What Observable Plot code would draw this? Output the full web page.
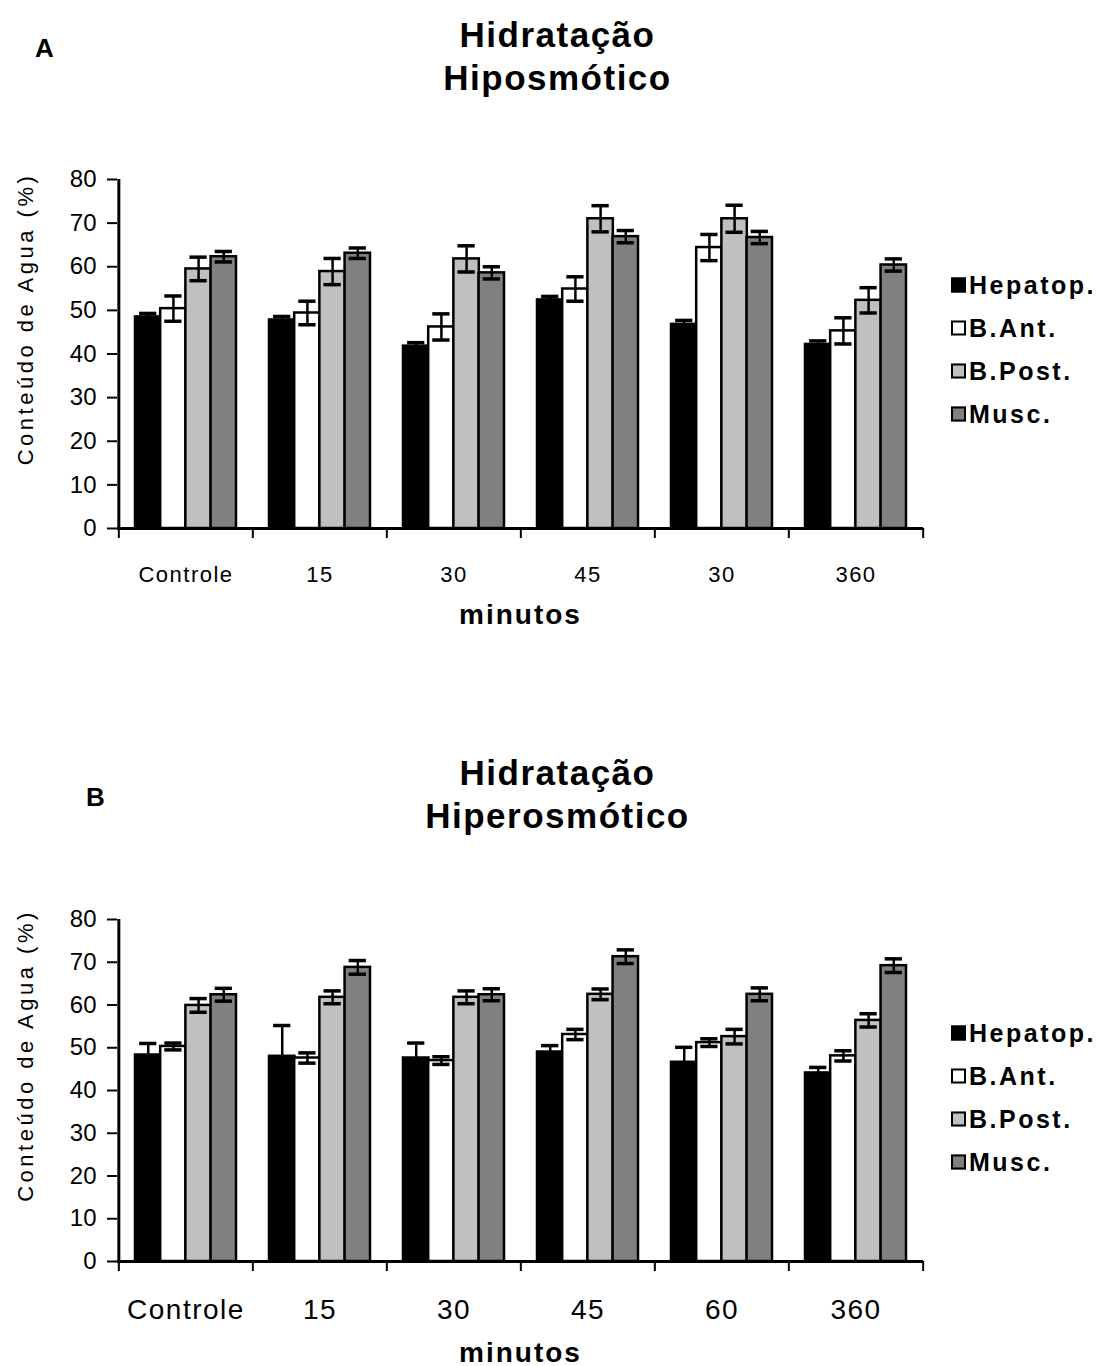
<!DOCTYPE html>
<html><head><meta charset="utf-8">
<script src="https://cdn.jsdelivr.net/npm/d3@7"></script>
<script src="https://cdn.jsdelivr.net/npm/@observablehq/plot@0.6"></script>
<style>
body{margin:0;background:#fff;font-family:"Liberation Sans",Arial,sans-serif;color:#000}
#page{position:relative;width:1115px;height:1366px;overflow:hidden;background:#fff}
.t{position:absolute;left:0;width:1115px;text-align:center;font-weight:bold;font-size:35px;letter-spacing:1.5px;line-height:1;white-space:nowrap}
.panel{position:absolute;font-weight:bold;font-size:26px;line-height:1}
.plot{position:absolute;left:0}
.legend{position:absolute;left:951px;font-weight:bold;font-size:25px;letter-spacing:2.5px}
.legend .row{position:absolute;left:0;display:flex;align-items:center;white-space:nowrap;transform:translateY(-50%)}
.legend .sw{width:11px;height:11px;border:2px solid #000;margin-right:3px}
svg g[aria-label="x-axis tick label"] text{letter-spacing:1.5px}
</style>
</head><body>
<div id="page"></div>
<script>
// ---------- data ----------
const series = ["Hepatop.", "B.Ant.", "B.Post.", "Musc."];
const colors = ["#000000", "#ffffff", "#c0c0c0", "#808080"];
const labelsA = ["Controle", "15", "30", "45", "30", "360"];
const labelsB = ["Controle", "15", "30", "45", "60", "360"];
const yTicks = [0, 10, 20, 30, 40, 50, 60, 70, 80];

// A - Hiposmótico
const hepA = [48.5, 47.8, 41.8, 52.4, 46.8, 42.2];
const hepAerr = [0.8, 0.8, 0.8, 0.8, 0.9, 0.8];
const antA = [50.4, 49.4, 46.2, 54.9, 64.4, 45.3];
const antAerr = [2.9, 2.7, 3.0, 2.8, 3.0, 3.0];
const postA = [59.5, 58.9, 61.8, 71.0, 71.0, 52.3];
const postAerr = [2.7, 3.0, 3.0, 3.0, 3.1, 2.9];
const musA = [62.3, 63.1, 58.6, 66.9, 66.7, 60.4];
const musAerr = [1.2, 1.2, 1.4, 1.4, 1.4, 1.4];

// B - Hiperosmótico
const hepB = [48.3, 48.0, 47.6, 49.0, 46.6, 44.1];
const hepBerr = [2.7, 7.2, 3.5, 1.5, 3.5, 1.3];
const antB = [50.3, 47.6, 47.0, 53.1, 51.2, 48.1];
const antBerr = [0.8, 1.2, 0.9, 1.2, 0.9, 1.2];
const postB = [59.9, 61.8, 61.8, 62.5, 52.6, 56.4];
const postBerr = [1.6, 1.5, 1.5, 1.25, 1.7, 1.55];
const musB = [62.4, 68.8, 62.4, 71.3, 62.5, 69.2];
const musBerr = [1.5, 1.6, 1.4, 1.6, 1.5, 1.6];

const yLabel = "Conteúdo de Agua (%)";
const xLabel = "minutos";

// ---------- layout ----------
const page = document.getElementById("page");
function addDiv(cls, text, style) {
  const d = document.createElement("div");
  d.className = cls;
  if (text != null) d.textContent = text;
  Object.assign(d.style, style || {});
  page.appendChild(d);
  return d;
}

function chart(cfg) {
  const {labels, vals, errs, height, marginTop, marginBottom, xFont, xPad, yLabelDy, xLabelDy} = cfg;
  const width = 935, marginLeft = 117, marginRight = 12;
  const step = (width - marginLeft - marginRight) / labels.length;
  const bw = step * 0.75;
  const barW = bw / 4;
  const idx = d3.range(labels.length);
  const rows = [];
  series.forEach((s, si) => idx.forEach(i => rows.push({i, si, s, v: vals[si][i], e: errs[si][i]})));
  const marks = [];
  series.forEach((s, si) => {
    const data = rows.filter(d => d.si === si);
    marks.push(Plot.barY(data, {x: "i", y: "v", fill: colors[si], stroke: "#000", strokeWidth: 2.5,
      insetLeft: si * barW, insetRight: (3 - si) * barW}));
  });
  series.forEach((s, si) => {
    const data = rows.filter(d => d.si === si);
    const c = (si + 0.5) * barW;
    marks.push(Plot.ruleX(data, {x: "i", y1: d => d.v - d.e, y2: d => d.v + d.e, dx: c - bw / 2, stroke: "#000", strokeWidth: 2.5}));
    marks.push(Plot.tickY(data, {x: "i", y: d => d.v + d.e, insetLeft: c - 8.5, insetRight: bw - c - 8.5, stroke: "#000", strokeWidth: 3.5}));
    marks.push(Plot.tickY(data, {x: "i", y: d => d.v - d.e, insetLeft: c - 8.5, insetRight: bw - c - 8.5, stroke: "#000", strokeWidth: 3.5}));
  });
  // axes lines and boundary ticks
  marks.push(Plot.ruleY([0], {stroke: "#000", strokeWidth: 3}));
  marks.push(Plot.ruleX([idx[0]], {x: d => d, dx: -step / 2, stroke: "#000", strokeWidth: 3}));
  marks.push(Plot.ruleX(idx, {x: d => d, dx: -step / 2, y1: 0, y2: 0, insetBottom: -10, stroke: "#000", strokeWidth: 2}));
  marks.push(Plot.ruleX([idx[idx.length - 1]], {x: d => d, dx: step / 2, y1: 0, y2: 0, insetBottom: -10, stroke: "#000", strokeWidth: 2}));
  marks.push(Plot.axisY({ticks: yTicks, tickSize: 10, tickPadding: 11, fontSize: 24, strokeWidth: 2, label: null}));
  marks.push(Plot.axisX({tickSize: 0, tickPadding: xPad, fontSize: xFont, tickFormat: i => labels[i], label: null}));
  marks.push(Plot.text([yLabel], {text: d => d, frameAnchor: "left", textAnchor: "middle", dx: -92, dy: yLabelDy, rotate: -90, fontSize: 22}));
  marks.push(Plot.text([xLabel], {text: d => d, frameAnchor: "bottom", dy: xLabelDy, fontSize: 28, fontWeight: "bold"}));

  const svg = Plot.plot({
    width, height, marginLeft, marginRight, marginTop, marginBottom,
    style: {fontFamily: "'Liberation Sans', Arial, sans-serif", color: "#000", background: "#fff", overflow: "visible"},
    x: {type: "band", domain: idx, paddingInner: 0.25, paddingOuter: 0.125, align: 0.5},
    y: {domain: [0, 80]},
    marks
  });
  d3.select(svg).selectAll("text").each(function () {
    if (this.textContent === yLabel) this.style.letterSpacing = "3.5px";
    if (this.textContent === xLabel) this.style.letterSpacing = "2px";
  });
  return svg;
}

function legend(top, spacing) {
  const lg = addDiv("legend", null, {top: top + "px"});
  series.forEach((s, si) => {
    const r = document.createElement("div");
    r.className = "row";
    r.style.top = (si * spacing) + "px";
    const sw = document.createElement("span");
    sw.className = "sw";
    sw.style.background = colors[si];
    const tx = document.createElement("span");
    tx.textContent = s;
    r.appendChild(sw); r.appendChild(tx);
    lg.appendChild(r);
  });
}

// Panel A
addDiv("panel", "A", {left: "35px", top: "35px"});
addDiv("t", "Hidratação", {top: "17px"});
addDiv("t", "Hiposmótico", {top: "60px"});
const A = chart({labels: labelsA, vals: [hepA, antA, postA, musA], errs: [hepAerr, antAerr, postAerr, musAerr],
  height: 500, marginTop: 39, marginBottom: 112, xFont: 22, xPad: 38, yLabelDy: -35, xLabelDy: 95});
A.classList.add("plot"); A.style.top = "140px";
page.appendChild(A);
legend(285, 43);

// Panel B
addDiv("panel", "B", {left: "86px", top: "784px"});
addDiv("t", "Hidratação", {top: "755px"});
addDiv("t", "Hiperosmótico", {top: "798px"});
const B = chart({labels: labelsB, vals: [hepB, antB, postB, musB], errs: [hepBerr, antBerr, postBerr, musBerr],
  height: 486, marginTop: 39, marginBottom: 105, xFont: 28, xPad: 38, yLabelDy: -35, xLabelDy: 100});
B.classList.add("plot"); B.style.top = "880px";
page.appendChild(B);
legend(1033, 43);
</script>
</body></html>
